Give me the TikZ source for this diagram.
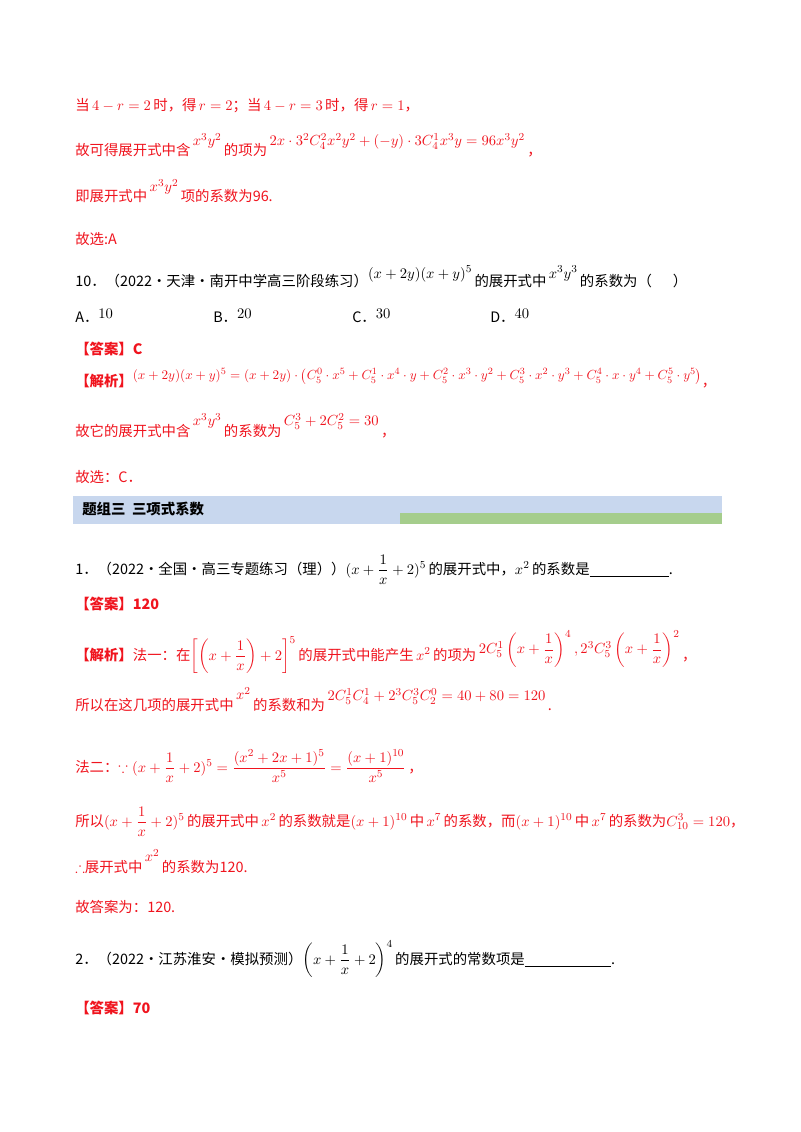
\documentclass[tikz,border=0pt]{standalone}
\usepackage{amsmath,amssymb,graphicx}
\usepackage{fontspec}
\newfontfamily\cjk{Noto Sans CJK SC}
\definecolor{rd}{RGB}{240,20,30}
\definecolor{bnblue}{RGB}{200,215,238}
\definecolor{bngreen}{RGB}{165,205,140}
\begin{document}
\begin{tikzpicture}[x=0.75pt,y=-0.75pt,
  t/.style={anchor=base west,inner sep=0pt,font=\cjk\fontsize{10.8}{12}\selectfont,text=rd},
  bk/.style={t,text=black},
  bl/.style={t,font=\cjk\bfseries\fontsize{10.8}{12}\selectfont}]
\useasboundingbox[fill=white] (0,0) rectangle (800,1132);
\node[t] (l1) at (75,110) {当\,$4-r=2$\,时，得\,$r=2$；当\,$4-r=3$\,时，得\,$r=1$，};
\node[t] (l2) at (75,155) {故可得展开式中含\,\raisebox{1.2ex}{$x^3y^2$}\,的项为\,\raisebox{1.2ex}{$2x\cdot3^2C_4^2x^2y^2+(-y)\cdot3C_4^1x^3y=96x^3y^2$}\,，};
\node[t] (l3) at (75,201) {即展开式中\,\raisebox{1.2ex}{$x^3y^2$}\,项的系数为96.};
\node[t] (l4) at (75,244) {故选:A};
\node[bk] (q10) at (75,286) {10．（2022·天津·南开中学高三阶段练习）\raisebox{1ex}{$(x+2y)(x+y)^5$}\,的展开式中\,\raisebox{1ex}{$x^3y^3$}\,的系数为（\quad\ \ ）};
\node[bk] (oa) at (75,322) {A．\raisebox{0.5ex}{$10$}};
\node[bk] (ob) at (213,322) {B．\raisebox{0.5ex}{$20$}};
\node[bk] (oc) at (352,322) {C．\raisebox{0.5ex}{$30$}};
\node[bk] (od) at (490,322) {D．\raisebox{0.5ex}{$40$}};
\node[bl] (a10) at (75,354) {【答案】C};
\node[t] (j10) at (75,386) {\textbf{【解析】}\raisebox{0.8ex}{\scalebox{0.9}{$(x+2y)(x+y)^5=(x+2y)\cdot\bigl(C_5^0\cdot x^5+C_5^1\cdot x^4\cdot y+C_5^2\cdot x^3\cdot y^2+C_5^3\cdot x^2\cdot y^3+C_5^4\cdot x\cdot y^4+C_5^5\cdot y^5\bigr)$}}，};
\node[t] (j10b) at (75,436) {故它的展开式中含\,\raisebox{1.3ex}{$x^3y^3$}\,的系数为\,\raisebox{1.3ex}{$C_5^3+2C_5^2=30$}\,，};
\node[t] (j10c) at (75,482) {故选：C．};
\fill[bnblue] (73,496) rectangle (722,524) coordinate (bnr);
\fill[bngreen] (400,513) rectangle (722,524);
\node[bl,text=black] (ban) at (82,514) {题组三\ \ 三项式系数};
\node[bk] (q1) at (75,574) {1．（2022·全国·高三专题练习（理））$(x+\dfrac{1}{x}+2)^5$\,的展开式中，$x^2$\,的系数是\underline{\hspace{5.5em}}.};
\node[bl] (a1) at (75,609) {【答案】120};
\node[t] (s1) at (75,660) {\textbf{【解析】}法一：在$\left[\left(x+\dfrac1x\right)+2\right]^5$\,的展开式中能产生\,$x^2$\,的项为\,\raisebox{0.8ex}{$2C_5^1\left(x+\dfrac1x\right)^4,2^3C_5^3\left(x+\dfrac1x\right)^2$}\,，};
\node[t] (s2) at (75,710) {所以在这几项的展开式中\,\raisebox{1.3ex}{$x^2$}\,的系数和为\,\raisebox{1.2ex}{$2C_5^1C_4^1+2^3C_5^3C_2^0=40+80=120$}\,.};
\node[t] (s3) at (75,772) {法二：$\because(x+\dfrac1x+2)^5=\dfrac{(x^2+2x+1)^5}{x^5}=\dfrac{(x+1)^{10}}{x^5}$\,，};
\node[t] (s4) at (75,826) {所以$(x+\dfrac1x+2)^5$\,的展开式中\,$x^2$\,的系数就是$(x+1)^{10}$\,中\,$x^7$\,的系数，而$(x+1)^{10}$\,中\,$x^7$\,的系数为$C_{10}^3=120$，};
\node[t] (s5) at (75,872) {$\therefore$展开式中\,\raisebox{1.3ex}{$x^2$}\,的系数为120.};
\node[t] (s6) at (75,912) {故答案为：120.};
\node[bk] (q2) at (75,964) {2．（2022·江苏淮安·模拟预测）$\left(x+\dfrac1x+2\right)^4$\,的展开式的常数项是\underline{\hspace{6em}}.};
\node[bl] (a2) at (75,1013) {【答案】70};
\end{tikzpicture}
\end{document}
